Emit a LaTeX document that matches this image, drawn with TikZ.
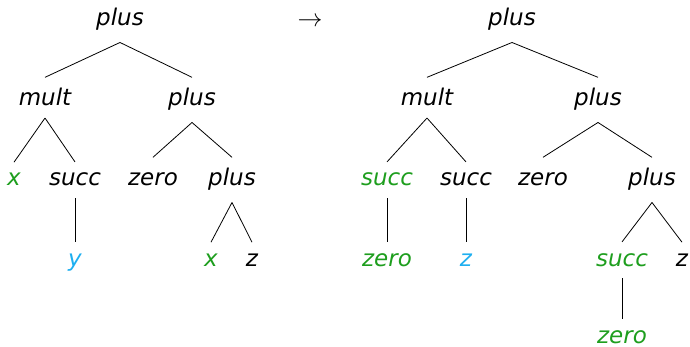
\documentclass[tikz,border=0pt]{standalone}
\usepackage{fontspec}
\setmainfont{DejaVu Sans}
\definecolor{tgreen}{RGB}{30,158,30}
\definecolor{tblue}{RGB}{30,175,240}
\begin{document}
\begin{tikzpicture}[x=1pt,y=-1pt,
  lbl/.style={inner sep=0pt,anchor=base,font=\fontsize{23}{27}\selectfont\itshape},
  tall/.style={text height=17.5pt},
  gr/.style={text=tgreen},
  bl/.style={text=tblue},
  edge/.style={draw=black,line width=0.8pt}]
\useasboundingbox (0,0) rectangle (690,347);
% left tree
\node[lbl] (L) at (120,26) {plus};
\node[lbl] (La) at (45,106) {mult};
\node[lbl] (Lb) at (192,106) {plus};
\node[lbl,gr] (Laa) at (14,186) {x};
\node[lbl] (Lab) at (75,186) {succ};
\node[lbl,tall] (Lba) at (153,186) {zero};
\node[lbl] (Lbb) at (232,186) {plus};
\node[lbl,bl] (Laba) at (75,266) {y};
\node[lbl,gr] (Lbba) at (211,266) {x};
\node[lbl] (Lbbb) at (252,266) {z};
% arrow
\node[inner sep=0pt,anchor=base,font=\fontsize{30}{32}\selectfont] (arr) at (310,27) {$\rightarrow$};
% right tree
\node[lbl] (R) at (512,26) {plus};
\node[lbl] (Ra) at (427,106) {mult};
\node[lbl] (Rb) at (598,106) {plus};
\node[lbl,gr] (Raa) at (387,186) {succ};
\node[lbl] (Rab) at (466,186) {succ};
\node[lbl,tall] (Rba) at (543,186) {zero};
\node[lbl] (Rbb) at (652,186) {plus};
\node[lbl,gr] (Raaa) at (387,266) {zero};
\node[lbl,bl] (Raba) at (466,266) {z};
\node[lbl,gr] (Rbba) at (622,266) {succ};
\node[lbl] (Rbbb) at (682,266) {z};
\node[lbl,gr] (Rbbaa) at (622,343.5) {zero};
% edges
\foreach \p/\c in {L/La,L/Lb,La/Laa,La/Lab,Lb/Lba,Lb/Lbb,Lab/Laba,Lbb/Lbba,Lbb/Lbbb,
  R/Ra,R/Rb,Ra/Raa,Ra/Rab,Rb/Rba,Rb/Rbb,Raa/Raaa,Rab/Raba,Rbb/Rbba,Rbb/Rbbb,Rbba/Rbbaa}
  \draw[edge] ([yshift=-11.5pt]\p.south) -- ([yshift=11pt]\c.north);
\end{tikzpicture}
\end{document}
